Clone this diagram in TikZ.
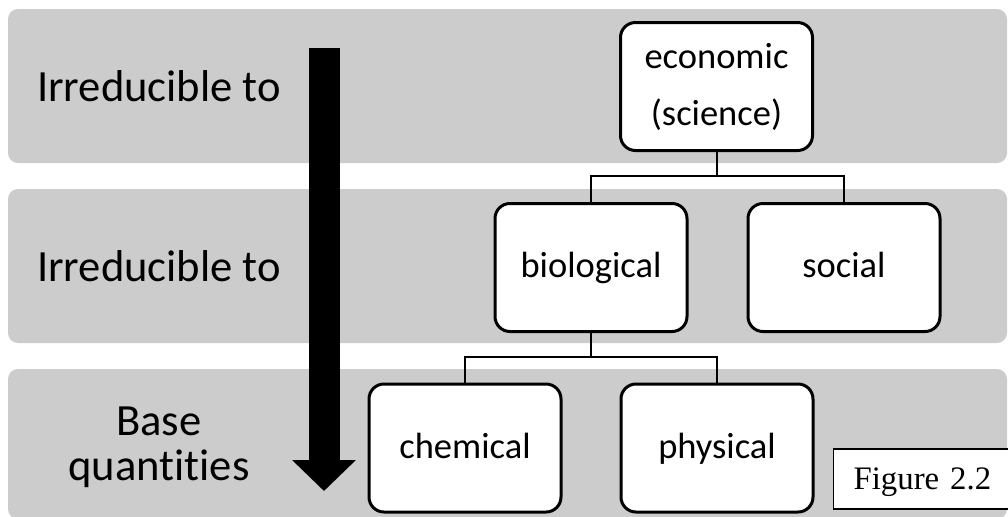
\documentclass[tikz,border=0pt]{standalone}
\usepackage{fontspec}
\setmainfont{Carlito}[Ligatures={NoCommon,NoContextual}]
\newfontfamily\figfont{Liberation Serif}
\usetikzlibrary{positioning,arrows.meta}
\definecolor{bandgrey}{RGB}{204,204,204}
\tikzset{
  bandfill/.style={fill=bandgrey,rounded corners=5pt},
  sciencebox/.style={draw,fill=white,line width=1.5pt,rounded corners=7.5pt,
    minimum width=96pt,minimum height=64pt,align=center,
    font=\fontsize{18.25}{28.5}\selectfont},
  oneline/.style={text height=13.8pt,text depth=3.8pt},
  layerlabel/.style={align=center,font=\fontsize{22.3}{22.5}\selectfont},
  treeline/.style={draw,line width=1pt},
  downarrow/.style={line width=15.5pt,-{Triangle[length=15.5pt,width=31pt]}},
  figlabel/.style={draw,line width=0.6pt,fill=white,minimum height=30pt,
    text width=70pt,inner xsep=10pt,align=left,text height=13.6pt,text depth=3.6pt,
    font=\figfont\fontsize{16.4}{18}\selectfont},
}
\newcommand{\layerband}[2]{\fill[bandfill] (8,#1) rectangle (1007,#2);}

\begin{document}
\begin{tikzpicture}[x=0.5pt,y=-0.5pt]
        \useasboundingbox (0,0) rectangle (1008,516);
        \clip (0,0) rectangle (1008,516);
        \layerband{9}{163}\layerband{189}{343}\layerband{369}{519}
        % layer labels
        \node[layerlabel] (irr1) at (159,86) {Irreducible to};
        \node[layerlabel] (irr2) at (159,266) {Irreducible to};
        \node[layerlabel] (base) at (159,447) {Base\\quantities};
        \coordinate (arrowtop) at (324,48);
        \coordinate (arrowtip) at (324,491);
        \draw[downarrow] (arrowtop) -- (arrowtip);
        % sciences
        \node[sciencebox] (econ) at (716.5,86.5) {economic\\(science)};
        \node[sciencebox,oneline] (bio) at (591,267.5) {biological};
        \node[sciencebox,oneline] (soc) at (844,267.5) {social};
        \node[sciencebox,oneline] (chem) at (465,448) {chemical};
        \node[sciencebox,oneline] (phys) at (717,448) {physical};
        \coordinate (split1) at (716.5,176);
        \coordinate (split2) at (591,357);
        \draw[treeline] (econ.south) -- (split1) -| (bio.north);
        \draw[treeline] (split1) -| (soc.north);
        \draw[treeline] (bio.south) -- (split2) -| (chem.north);
        \draw[treeline] (split2) -| (phys.north);
        \node[figlabel,anchor=west] (figno) at (833,479) {Figure 2.2};
      \end{tikzpicture}
\end{document}
